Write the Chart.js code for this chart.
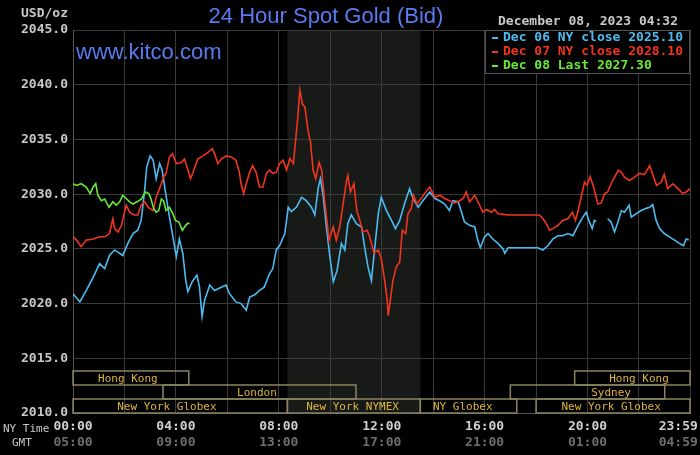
<!DOCTYPE html>
<html>
<head>
<meta charset="utf-8">
<title>24 Hour Spot Gold (Bid)</title>
<script src="https://cdn.jsdelivr.net/npm/chart.js@4/dist/chart.umd.min.js"></script>
<style>
  html, body { margin: 0; padding: 0; background: #000; }
  #wrap { width: 700px; height: 455px; }
</style>
</head>
<body>
<div id="wrap"><canvas id="goldChart"></canvas></div>
<script>
// ------------------
// data (x = minutes after 00:00 NY time)
// ------------------
const blueTimes = [0,16,31,47,62,74,85,97,116,128,140,151,159,167,172,180,187,194,202,208,214,225,233,241,248,256,263,268,278,289,295,301,307,319,330,346,357,365,380,392,404,412,424,435,446,458,466,474,482,494,502,509,521,533,544,556,564,572,577,583,591,599,607,616,626,634,641,649,661,673,680,688,696,704,712,719,731,743,752,762,773,785,793,805,816,832,844,855,867,878,886,898,905,913,925,937,944,950,960,968,979,991,1003,1007,1015,1084,1096,1108,1119,1131,1142,1154,1166,1178,1189,1197,1203,1211,1216,1220,1235,1247,1255,1263,1271,1279,1286,1297,1302,1313,1325,1337,1345,1352,1360,1368,1379,1391,1403,1414,1424,1430,1436];
const blueValues = [2020.9,2020.15,2021.2,2022.4,2023.65,2023.2,2024.4,2024.9,2024.4,2025.5,2026.4,2026.7,2027.6,2030.3,2032.5,2033.5,2033.1,2031.4,2032.8,2032.2,2030.6,2027.9,2026.1,2024.3,2025.9,2024.6,2022.1,2021.1,2022.0,2022.6,2021.5,2018.8,2020.3,2021.7,2021.2,2021.5,2021.7,2020.9,2020.15,2020.0,2019.4,2020.6,2020.8,2021.2,2021.5,2022.7,2023.2,2024.9,2025.3,2026.4,2028.8,2028.4,2028.8,2029.7,2029.4,2028.8,2028.1,2030.6,2031.4,2030.0,2027.0,2024.3,2022.0,2023.05,2025.5,2024.9,2027.3,2028.1,2027.3,2027.0,2025.2,2023.35,2022.1,2025.2,2028.2,2029.7,2028.5,2027.6,2026.85,2027.6,2029.1,2030.5,2029.6,2028.8,2029.4,2030.2,2029.6,2029.4,2029.1,2028.5,2029.4,2029.3,2028.5,2027.45,2027.15,2027.0,2025.8,2025.1,2026.1,2026.4,2025.9,2025.5,2025.0,2024.6,2025.1,2025.1,2024.9,2025.3,2025.9,2026.2,2026.2,2026.4,2026.2,2027.15,2027.9,2028.35,2027.6,2026.85,2027.6,2027.5,null,2027.75,2027.45,2026.55,2027.45,2028.5,2028.35,2028.98,2027.9,2028.2,2028.5,2028.7,2028.8,2029.05,2027.6,2026.85,2026.4,2026.1,2025.8,2025.5,2025.3,2025.9,2025.8];

const redTimes = [0,8,19,31,47,62,74,85,93,97,105,113,121,124,132,143,151,159,167,175,187,194,206,211,217,225,232,241,253,260,268,274,280,291,303,314,325,330,338,346,357,369,380,388,392,398,404,412,419,427,435,443,451,458,466,474,482,490,498,506,514,517,525,529,535,541,548,554,560,566,574,580,587,593,597,607,614,622,630,638,641,647,655,662,669,676,686,692,702,712,719,727,733,735,740,746,754,762,768,776,781,789,794,802,812,820,832,844,855,867,878,890,902,910,917,925,937,947,956,964,976,983,991,1003,1015,1088,1096,1104,1111,1119,1131,1142,1154,1165,1172,1180,1187,1193,1199,1206,1213,1219,1224,1232,1240,1247,1255,1263,1272,1279,1286,1298,1310,1321,1333,1345,1352,1361,1372,1379,1387,1399,1411,1422,1430,1439];
const redValues = [2026.1,2025.8,2025.2,2025.8,2025.9,2026.1,2026.1,2026.4,2027.75,2026.85,2026.55,2027.15,2028.5,2029.0,2028.35,2028.1,2028.1,2029.0,2029.3,2028.8,2028.5,2029.7,2030.95,2031.55,2031.9,2033.4,2033.7,2032.8,2032.9,2033.2,2032.2,2031.4,2032.0,2033.2,2033.5,2033.8,2034.15,2033.7,2032.8,2033.2,2033.5,2033.4,2033.1,2032.0,2030.95,2030.05,2030.95,2032.0,2032.6,2032.0,2030.65,2030.65,2031.9,2032.2,2031.9,2032.0,2032.8,2033.1,2032.2,2033.25,2032.8,2034.0,2037.35,2039.5,2038.25,2037.95,2035.8,2034.75,2032.2,2031.4,2032.9,2032.2,2029.4,2027.3,2025.8,2027.0,2025.8,2027.0,2029.1,2031.25,2031.7,2030.2,2030.95,2028.5,2027.6,2026.55,2026.7,2026.1,2024.6,2024.9,2024.1,2022.1,2020.3,2018.9,2020.3,2022.1,2023.35,2023.8,2026.7,2026.4,2028.2,2028.7,2029.9,2029.1,2029.6,2030.05,2030.65,2029.7,2029.9,2029.6,2029.4,2029.2,2029.4,2029.6,2030.2,2029.3,2029.9,2029.1,2028.35,2028.6,2028.35,2028.6,2028.2,2028.15,2028.1,2028.1,2027.75,2027.3,2026.7,2026.85,2027.15,2027.6,2027.75,2028.35,2027.6,2028.8,2030.05,2031.1,2030.8,2031.6,2030.8,2029.9,2029.1,2029.2,2030.05,2030.2,2030.95,2031.55,2032.2,2032.0,2031.55,2031.25,2031.55,2031.9,2031.8,2032.6,2031.8,2030.8,2031.1,2031.8,2030.5,2030.95,2030.5,2030.05,2030.2,2030.5];

const greenTimes = [0,8,19,31,40,47,53,58,66,74,84,93,101,109,116,124,132,140,149,159,169,177,182,188,194,200,206,211,217,225,233,239,247,255,263,268,272];
const greenValues = [2030.95,2030.8,2030.95,2030.65,2030.05,2030.65,2030.95,2029.9,2029.4,2029.55,2028.8,2029.3,2029.0,2029.3,2029.9,2029.6,2029.3,2029.1,2029.3,2029.55,2030.2,2030.05,2029.55,2028.7,2028.35,2028.5,2029.55,2029.4,2028.5,2028.8,2028.2,2027.6,2027.45,2026.7,2027.15,2027.35,2027.3];

const seriesNames = ["Dec 06 NY close 2025.10", "Dec 07 NY close 2028.10", "Dec 08 Last 2027.30"];

// tick labels
const yTicks = [2010, 2015, 2020, 2025, 2030, 2035, 2040, 2045];
const gridMinutes = [0,120,240,360,480,600,720,840,960,1080,1200,1320,1439];
const labelMinutes = [0, 240, 480, 720, 960, 1200, 1439];
const nyLabels = ["00:00", "04:00", "08:00", "12:00", "16:00", "20:00", "23:59"];
const gmtLabels = ["05:00", "09:00", "13:00", "17:00", "21:00", "01:00", "04:59"];

// market sessions (row 0 = top)
const sessionNames  = ["Hong Kong", "London", "New York Globex", "New York NYMEX", "NY Globex", "Sydney", "Hong Kong", "New York Globex"];
const sessionStarts = [0, 210, 0, 500, 810, 1020, 1170, 1080];
const sessionEnds   = [270, 660, 500, 810, 1035, 1380, 1439, 1439];
const sessionRows   = [0, 1, 2, 2, 2, 1, 0, 2];
const sessionLabelAt = [128, 429, 219, 652, 909, 1255, 1320, 1255];

const nymexStart = 500, nymexEnd = 810;

// ------------------
// helpers
// ------------------
function toPoints(times, values) {
  return times.map((t, i) => ({ x: t, y: values[i] }));
}

// last label sits left of its tick so it stays on the canvas
function timeLabel(labels) {
  return v => {
    const i = labelMinutes.indexOf(v);
    if (i < 0) return "";
    return i === labelMinutes.length - 1 ? labels[i] + "   " : labels[i];
  };
}

function noLabelPadding(s) {
  s.paddingLeft = 0;
  s.paddingRight = 0;
}

const MONO = '"DejaVu Sans Mono", "Liberation Mono", monospace';
const SANS = '"Liberation Sans", Arial, sans-serif';
const BLUE = "#4cbcf0", RED = "#f0341f", GREEN = "#6ae836";

// ------------------
// plugins
// ------------------
const backdrop = {
  id: "backdrop",
  beforeDraw(chart) {
    const { ctx, chartArea: a, scales: { x } } = chart;
    ctx.save();
    ctx.fillStyle = "#000";
    ctx.fillRect(0, 0, chart.width, chart.height);
    const x0 = x.getPixelForValue(nymexStart);
    const x1 = x.getPixelForValue(nymexEnd);
    ctx.fillStyle = "#181a18";
    ctx.fillRect(x0, a.top, x1 - x0, a.bottom - a.top);
    ctx.restore();
  }
};

const sessions = {
  id: "sessions",
  afterDatasetsDraw(chart) {
    const { ctx, scales: { x, y } } = chart;
    const rowH = 1.28; // price units per row
    ctx.save();
    ctx.lineWidth = 1.5;
    ctx.strokeStyle = "#8a8560";
    ctx.fillStyle = "#dcb440";
    ctx.font = "11px " + MONO;
    ctx.textAlign = "center";
    ctx.textBaseline = "middle";
    sessionNames.forEach((name, i) => {
      const lo = 2010 + (2 - sessionRows[i]) * rowH;
      const top = y.getPixelForValue(lo + rowH);
      const bot = y.getPixelForValue(lo);
      const l = x.getPixelForValue(sessionStarts[i]);
      const r = x.getPixelForValue(sessionEnds[i]);
      ctx.strokeRect(l, top, r - l, bot - top);
      ctx.fillText(name, x.getPixelForValue(sessionLabelAt[i]), (top + bot) / 2 + 1);
    });
    ctx.restore();
  }
};

const overlay = {
  id: "overlay",
  afterDraw(chart) {
    const { ctx, chartArea: a } = chart;
    ctx.save();
    // title + site
    ctx.fillStyle = "#5a7af0";
    ctx.textBaseline = "middle";
    ctx.textAlign = "center";
    ctx.font = "22px " + SANS;
    ctx.fillText("24 Hour Spot Gold (Bid)", 326, 17);
    ctx.textAlign = "left";
    ctx.fillText("www.kitco.com", 76, 53);

    // date
    ctx.fillStyle = "#c8c8c8";
    ctx.font = "bold 13px " + MONO;
    ctx.fillText("December 08, 2023 04:32", 498, 22);

    // units + axis captions
    ctx.textAlign = "right";
    ctx.fillText("USD/oz", 68, 14);
    ctx.font = "11px " + MONO;
    ctx.textAlign = "left";
    ctx.fillText("NY Time", 3, 429);
    ctx.fillText("GMT", 12, 443);

    // legend box
    const bx = 485, by = a.top, bw = a.right - bx, bh = 43;
    ctx.fillStyle = "#000";
    ctx.fillRect(bx, by, bw, bh);
    ctx.strokeStyle = "#555";
    ctx.lineWidth = 1;
    ctx.strokeRect(bx + 0.5, by + 0.5, bw - 1, bh);
    ctx.font = "bold 13px " + MONO;
    const cols = [BLUE, RED, GREEN];
    seriesNames.forEach((name, i) => {
      const yy = by + 8 + i * 14;
      ctx.fillStyle = cols[i];
      ctx.fillRect(492, yy - 1, 6, 2);
      ctx.fillText(name, 503, yy);
    });
    ctx.restore();
  }
};

// ------------------
// chart setup
// ------------------
function createChart() {
  const ctx = document.getElementById("goldChart");
  const lineStyle = { borderWidth: 1.6, pointRadius: 0, tension: 0, spanGaps: false, fill: false };

  new Chart(ctx, {
    type: "line",
    data: {
      datasets: [
        { label: seriesNames[2], data: toPoints(greenTimes, greenValues), borderColor: GREEN, ...lineStyle },
        { label: seriesNames[1], data: toPoints(redTimes, redValues), borderColor: RED, ...lineStyle },
        { label: seriesNames[0], data: toPoints(blueTimes, blueValues), borderColor: BLUE, ...lineStyle }
      ]
    },
    options: {
      responsive: true,
      maintainAspectRatio: false,
      animation: false,
      layout: { padding: { top: 30, right: 10, bottom: 6, left: 0 } },
      plugins: { legend: { display: false }, title: { display: false }, tooltip: { enabled: false } },
      scales: {
        x: {
          type: "linear", position: "bottom", min: 0, max: 1439,
          grid: { color: "#3a3a3a", lineWidth: 1, drawTicks: false },
          border: { color: "#555" },
          afterBuildTicks: s => { s.ticks = gridMinutes.map(v => ({ value: v })); },
          afterFit: s => { s.height = 20; noLabelPadding(s); },
          ticks: {
            color: "#d0d0d0", font: { family: MONO, size: 13, weight: "bold" },
            padding: 6, maxRotation: 0, autoSkip: false,
            callback: timeLabel(nyLabels)
          }
        },
        xGmt: {
          type: "linear", position: "bottom", min: 0, max: 1439,
          grid: { display: false, drawTicks: false },
          border: { display: false },
          afterBuildTicks: s => { s.ticks = labelMinutes.map(v => ({ value: v })); },
          afterFit: s => { s.height = 16; noLabelPadding(s); },
          ticks: {
            color: "#6e6e6e", font: { family: MONO, size: 13, weight: "bold" },
            padding: 2, maxRotation: 0, autoSkip: false,
            callback: timeLabel(gmtLabels)
          }
        },
        y: {
          min: 2010, max: 2045,
          grid: { color: "#3a3a3a", lineWidth: 1, drawTicks: false },
          border: { color: "#555" },
          afterBuildTicks: s => { s.ticks = yTicks.map(v => ({ value: v })); },
          afterFit: s => { s.width = 73; },
          ticks: {
            color: "#c8c8c8", font: { family: MONO, size: 13, weight: "bold" },
            padding: 5,
            callback: v => v.toFixed(1)
          }
        }
      }
    },
    plugins: [backdrop, sessions, overlay]
  });
}

window.onload = () => {
  createChart();
};
</script>
</body>
</html>
